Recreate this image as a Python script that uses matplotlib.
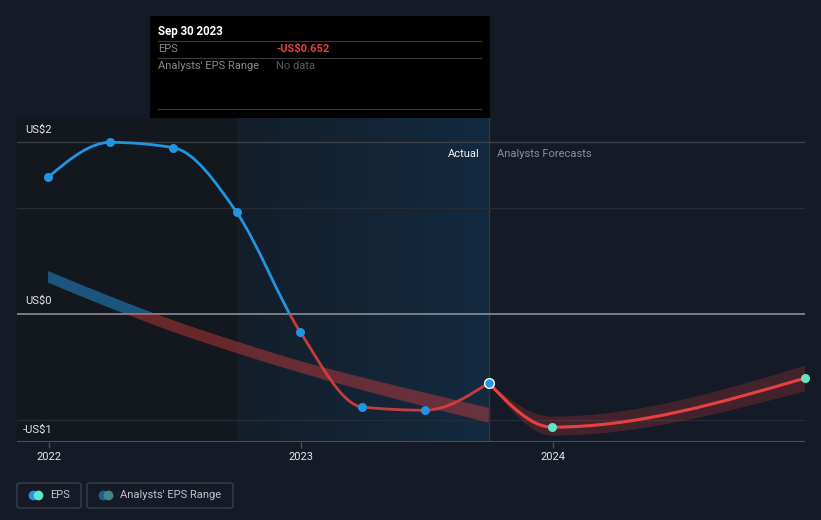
import numpy as np
import matplotlib
matplotlib.use("Agg")
import matplotlib.pyplot as plt
import matplotlib.dates as mdates
from matplotlib.path import Path
from matplotlib.patches import PathPatch, Rectangle, FancyBboxPatch
from matplotlib.colors import LinearSegmentedColormap
from matplotlib.transforms import Bbox, TransformedBbox
import datetime as dt

plt.rcParams['font.family'] = ['Roboto', 'DejaVu Sans']

# ---------------- data ----------------
dates_actual = ['2021-12-31', '2022-03-31', '2022-06-30', '2022-09-30',
                '2022-12-31', '2023-03-31', '2023-06-30', '2023-09-30']
eps_actual = [1.29, 1.62, 1.57, 0.96, -0.17, -0.88, -0.91, -0.652]
range_low_past = [0.295, 0.055, -0.17, -0.37, -0.555, -0.72, -0.875, -1.027]
range_high_past = [0.405, 0.165, -0.06, -0.26, -0.445, -0.60, -0.745, -0.887]

dates_fc = ['2023-09-30', '2023-12-31', '2024-12-31']
eps_fc = [-0.652, -1.07, -0.607]
fc_low = [-0.652, -1.15, -0.73]
fc_high = [-0.652, -0.97, -0.49]

x_ticks = ['2022-01-01', '2023-01-01', '2024-01-01']
x_tick_labels = ['2022', '2023', '2024']
y_labels = ['US$2', 'US$0', '-US$1']

# ---------------- helpers ----------------
W, H = 821, 520
BG = '#151b26'
BLUE = '#2394df'
RED = '#e8403f'
TEAL = '#5ee6c8'


def d(s):
    return mdates.date2num(dt.datetime.strptime(s, '%Y-%m-%d'))


def monotone_tangents(x, y):
    x = np.asarray(x, float)
    y = np.asarray(y, float)
    n = len(x)
    h = np.diff(x)
    s = np.diff(y) / h
    t = np.zeros(n)
    for i in range(1, n - 1):
        s0, s1 = s[i - 1], s[i]
        if s0 * s1 <= 0:
            t[i] = 0.0
        else:
            p = (s0 * h[i] + s1 * h[i - 1]) / (h[i - 1] + h[i])
            t[i] = (np.sign(s0) + np.sign(s1)) * min(abs(s0), abs(s1), 0.5 * abs(p))
    if n > 2:
        t[0] = (3 * s[0] - t[1]) / 2
        t[-1] = (3 * s[-1] - t[-2]) / 2
    else:
        t[0] = t[-1] = s[0]
    return t


def curve_segments(x, y):
    t = monotone_tangents(x, y)
    verts, codes = [], []
    for i in range(len(x) - 1):
        dx = (x[i + 1] - x[i]) / 3.0
        verts += [(x[i] + dx, y[i] + dx * t[i]),
                  (x[i + 1] - dx, y[i + 1] - dx * t[i + 1]),
                  (x[i + 1], y[i + 1])]
        codes += [Path.CURVE4] * 3
    return verts, codes


def curve_path(x, y):
    v, c = curve_segments(x, y)
    return Path([(x[0], y[0])] + v, [Path.MOVETO] + c)


def band_path(x, lo, hi):
    v1, c1 = curve_segments(x, hi)
    xr, lr = list(x[::-1]), list(lo[::-1])
    v2, c2 = curve_segments(xr, lr)
    verts = [(x[0], hi[0])] + v1 + [(xr[0], lr[0])] + v2 + [(x[0], hi[0])]
    codes = [Path.MOVETO] + c1 + [Path.LINETO] + c2 + [Path.CLOSEPOLY]
    return Path(verts, codes)


# ---------------- figure ----------------
fig = plt.figure(figsize=(W / 100, H / 100), dpi=100, facecolor=BG)
ax_l, ax_r, ax_t, ax_b = 17, 805, 118, 442
ax = fig.add_axes([ax_l / W, 1 - ax_b / H, (ax_r - ax_l) / W, (ax_b - ax_t) / H])
ax.set_facecolor(BG)
for sp in ax.spines.values():
    sp.set_visible(False)

xa = np.array([d(s) for s in dates_actual])
xf = np.array([d(s) for s in dates_fc])
xmin = d('2022-01-01') - 46
xmax = d('2024-12-31')
ymin, ymax = -1.21, 1.85

# shaded regions
ax.axvspan(xmin, xa[3], color='#13171e', zorder=0, lw=0)
cmap = LinearSegmentedColormap.from_list('g', ['#141e2a', '#132a40'])
ax.imshow(np.linspace(0, 1, 256).reshape(1, -1), cmap=cmap, aspect='auto',
          extent=[xa[3], xa[-1], ymin, ymax], zorder=0.5, interpolation='bilinear')
ax.axvline(xa[-1], color='#2a3a4c', lw=1, zorder=1)

# gridlines
for yv, col in [(1.62, '#3a3f47'), (1.0, '#262c36'), (-1.0, '#262c36')]:
    ax.axhline(yv, color=col, lw=1, zorder=1)
ax.axhline(0, color='#8c8f94', lw=1.2, zorder=1)
ax.axhline(ymin, color='#4a4f57', lw=1.5, zorder=1)

ax.set_xlim(xmin, xmax)
ax.set_ylim(ymin, ymax)

clip_above = TransformedBbox(Bbox([[xmin, 0], [xmax, 10]]), ax.transData)
clip_below = TransformedBbox(Bbox([[xmin, -10], [xmax, 0]]), ax.transData)


def add_clipped(patch, box):
    ax.add_patch(patch)
    patch.set_clip_path(None)
    patch.set_clip_box(box)


# past analyst range band
bp = band_path(xa, np.array(range_low_past), np.array(range_high_past))
add_clipped(PathPatch(bp, transform=ax.transData, facecolor=BLUE, alpha=0.5, lw=0,
                      zorder=2), clip_above)
add_clipped(PathPatch(bp, transform=ax.transData, facecolor=RED, alpha=0.4, lw=0,
                      zorder=2), clip_below)

# forecast range band
fp = band_path(xf, np.array(fc_low), np.array(fc_high))
ax.add_patch(PathPatch(fp, transform=ax.transData, facecolor=RED, alpha=0.22,
                       lw=0, zorder=2))

# actual EPS line
ap = curve_path(xa, np.array(eps_actual))
add_clipped(PathPatch(ap, transform=ax.transData, facecolor='none', edgecolor=BLUE,
                      lw=2.0, zorder=3, capstyle='round'), clip_above)
add_clipped(PathPatch(ap, transform=ax.transData, facecolor='none', edgecolor=RED,
                      lw=2.0, alpha=0.85, zorder=3, capstyle='round'), clip_below)

# forecast line
fpl = curve_path(xf, np.array(eps_fc))
ax.add_patch(PathPatch(fpl, transform=ax.transData, facecolor='none', edgecolor=RED,
                       lw=2.2, zorder=3, capstyle='round'))

# markers
ax.plot(xa[:-1], eps_actual[:-1], 'o', color=BLUE, ms=6.5, mec='none', zorder=4)
ax.plot(xa[-1:], eps_actual[-1:], 'o', color=BLUE, ms=7, mec='white', mew=1.0, zorder=5)
ax.plot(xf[1:], eps_fc[1:], 'o', color=TEAL, ms=6.5, mec='none', zorder=4, clip_on=False)

# x ticks
ax.set_xticks([d(s) for s in x_ticks])
ax.set_xticklabels(x_tick_labels)
ax.tick_params(axis='x', colors='#4a4f57', labelcolor='#e6e8eb', labelsize=8,
               length=4, width=1, pad=3, direction='out')
ax.set_yticks([])


def ftext(x, y, s, **kw):
    fig.text(x / W, 1 - y / H, s, **kw)


# y labels
ftext(25, 130, y_labels[0], color='#e6e8eb', fontsize=8, va='center', ha='left')
ftext(25, 301, y_labels[1], color='#e6e8eb', fontsize=8, va='center', ha='left')
ftext(23, 430, y_labels[2], color='#e6e8eb', fontsize=8, va='center', ha='left')

# actual / forecast labels
ftext(480, 154, 'Actual', color='#f0f2f5', fontsize=8, va='center', ha='right')
ftext(497, 154, 'Analysts Forecasts', color='#8a8f98', fontsize=8, va='center', ha='left')

# tooltip
fig.patches.append(Rectangle((150 / W, 1 - 118 / H), 340 / W, 102 / H,
                             transform=fig.transFigure, facecolor='#000000',
                             edgecolor='none', zorder=10))
for yy in [41, 58, 109]:
    fig.lines.append(plt.Line2D([158 / W, 481 / W], [1 - yy / H, 1 - yy / H],
                                transform=fig.transFigure, color='#3a3a3a', lw=0.8,
                                zorder=11))
ftext(158, 31, 'Sep 30 2023', color='#ffffff', fontsize=8.3, fontweight='bold',
      va='center', ha='left', zorder=12)
ftext(158, 49, 'EPS', color='#8a8a8a', fontsize=8, va='center', ha='left', zorder=12)
ftext(276, 49, '-US$0.652', color=RED, fontsize=8, fontweight='bold',
      va='center', ha='left', zorder=12)
ftext(158, 66, "Analysts' EPS Range", color='#8a8a8a', fontsize=8, va='center',
      ha='left', zorder=12)
ftext(276, 66, 'No data', color='#5a5a5a', fontsize=8, va='center', ha='left', zorder=12)

# legend
for (x0, x1) in [(17, 81), (87, 233)]:
    fig.patches.append(FancyBboxPatch((x0 / W, 1 - 508 / H), (x1 - x0) / W, 25 / H,
                                      boxstyle='round,pad=0,rounding_size=0.004',
                                      transform=fig.transFigure, facecolor='none',
                                      edgecolor='#3a404a', lw=1, zorder=10))
legend_dots = [(33, BLUE), (38, TEAL), (103, '#1f5f8f'), (108, '#3f8a85')]
for xx, col in legend_dots:
    fig.lines.append(plt.Line2D([xx / W], [1 - 495 / H], transform=fig.transFigure,
                                marker='o', ms=7, color=col, mec='none', zorder=11))
ftext(50, 495, 'EPS', color='#c0c4ca', fontsize=8, va='center', ha='left')
ftext(120, 495, "Analysts' EPS Range", color='#c0c4ca', fontsize=8, va='center', ha='left')

fig.savefig('out.png', dpi=100, facecolor=BG)
